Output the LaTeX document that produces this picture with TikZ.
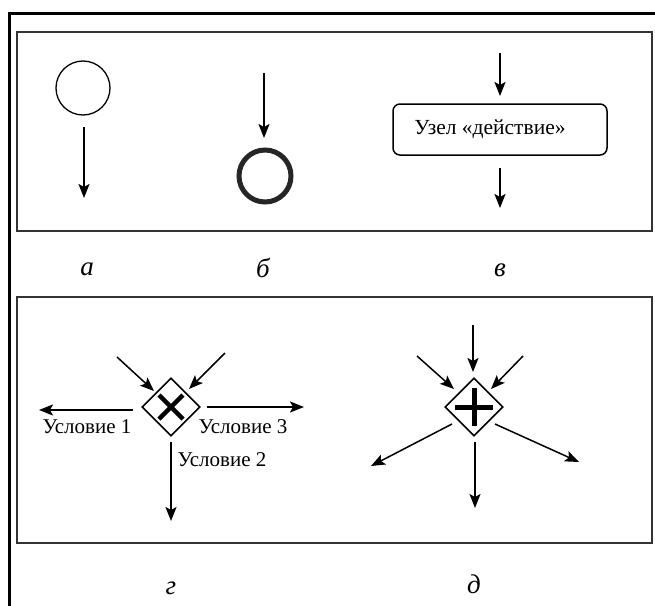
\documentclass[tikz,border=0pt]{standalone}
\usepackage{fontspec}
\setmainfont{Liberation Serif}
\usetikzlibrary{arrows.meta,shapes.geometric}
\tikzset{
  arr/.style={line width=1.5pt,-{Stealth[length=14pt,width=11pt,inset=3pt]}},
  panel/.style={draw=black!80,line width=1.8pt},
  gate/.style={diamond,draw,line width=1.6pt,minimum width=58pt,minimum height=58pt,inner sep=0pt},
  cond/.style={font=\fontsize{21}{21}\selectfont,inner sep=0pt},
  sub/.style={font=\fontsize{27}{27}\selectfont\itshape,inner sep=0pt}
}
\begin{document}
\begin{tikzpicture}[x=1pt,y=-1pt]
\useasboundingbox (0,0) rectangle (655,605);
\begin{scope}
\clip (0,0) rectangle (655,605);
\draw[line width=3pt] (9,700) -- (9,13) -- (700,13);
\end{scope}
\draw[panel] (17,32) rectangle (652,231);
\draw[panel] (17,297) rectangle (652,543);
% a
\node[circle,draw,line width=1.3pt,minimum size=54pt,inner sep=0pt] (c1) at (83,88) {};
\coordinate (a1s) at (84,127);
\coordinate (a1e) at (84,198);
\draw[arr] (a1s) -- (a1e);
% b
\node[circle,draw=black!85,line width=5pt,minimum size=52pt,inner sep=0pt] (c2) at (265,176) {};
\coordinate (b1s) at (264,73);
\coordinate (b1e) at (264,138);
\draw[arr] (b1s) -- (b1e);
% v
\node[draw,rounded corners=7pt,line width=1.5pt,minimum width=214pt,minimum height=51pt,inner sep=0pt,font=\fontsize{21.5}{21.5}\selectfont] (act) at (500,129.5) {\hspace*{-20pt}Узел «действие»};
\coordinate (v1s) at (500,53);
\coordinate (v1e) at (500,96);
\draw[arr] (v1s) -- (v1e);
\coordinate (v2s) at (500,168);
\coordinate (v2e) at (500,208);
\draw[arr] (v2s) -- (v2e);
% labels
\node[sub] (la) at (87,269) {а};
\node[sub] (lb) at (263,268) {б};
\node[sub] (lv) at (500,270) {в};
% g
\node[gate] (g) at (171,407) {};
\draw[line width=4.5pt] ([shift={(-12,-12)}]g.center) -- ([shift={(12,12)}]g.center);
\draw[line width=4.5pt] ([shift={(-12,12)}]g.center) -- ([shift={(12,-12)}]g.center);
\coordinate (g1s) at (117,357);
\coordinate (g1e) at (154,391);
\draw[arr] (g1s) -- (g1e);
\coordinate (g2s) at (225,353);
\coordinate (g2e) at (189,389);
\draw[arr] (g2s) -- (g2e);
\coordinate (g3s) at (133,410);
\coordinate (g3e) at (39,410);
\draw[arr] (g3s) -- (g3e);
\coordinate (g4s) at (207,407);
\coordinate (g4e) at (304,407);
\draw[arr] (g4s) -- (g4e);
\coordinate (g5s) at (171,442);
\coordinate (g5e) at (171,521);
\draw[arr] (g5s) -- (g5e);
\node[cond] (u1) at (87,427) {Условие 1};
\node[cond] (u3) at (243,427) {Условие 3};
\node[cond] (u2) at (222,460) {Условие 2};
\node[sub] (lg) at (171,588) {г};
% d
\node[gate] (d) at (474,407) {};
\draw[line width=5pt] ([shift={(-19,0)}]d.center) -- ([shift={(19,0)}]d.center);
\draw[line width=5pt] ([shift={(0,-19)}]d.center) -- ([shift={(0,19)}]d.center);
\coordinate (d1s) at (473,325);
\coordinate (d1e) at (473,372);
\draw[arr] (d1s) -- (d1e);
\coordinate (d2s) at (417,356);
\coordinate (d2e) at (454,389);
\draw[arr] (d2s) -- (d2e);
\coordinate (d3s) at (523,356);
\coordinate (d3e) at (491,389);
\draw[arr] (d3s) -- (d3e);
\coordinate (d4s) at (452,424);
\coordinate (d4e) at (371,466);
\draw[arr] (d4s) -- (d4e);
\coordinate (d5s) at (495,424);
\coordinate (d5e) at (579,462);
\draw[arr] (d5s) -- (d5e);
\coordinate (d6s) at (475,442);
\coordinate (d6e) at (475,508);
\draw[arr] (d6s) -- (d6e);
\node[sub] (ld) at (474,584) {д};
\end{tikzpicture}
\end{document}
